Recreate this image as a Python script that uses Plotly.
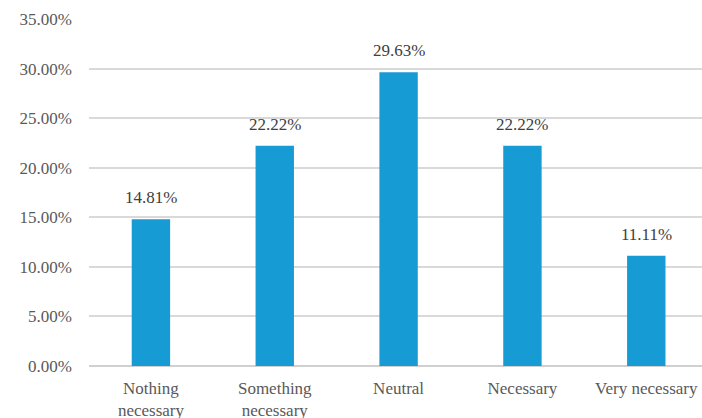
import plotly.graph_objects as go

categories = ["Nothing<br>necessary", "Something<br>necessary", "Neutral", "Necessary", "Very necessary"]
values = [14.81, 22.22, 29.63, 22.22, 11.11]
labels = ["14.81%", "22.22%", "29.63%", "22.22%", "11.11%"]
tick_vals = [0, 5, 10, 15, 20, 25, 30, 35]
tick_text = ["0.00%", "5.00%", "10.00%", "15.00%", "20.00%", "25.00%", "30.00%", "35.00%"]

font_family = "Liberation Serif, Times New Roman, serif"
FS = 17

xs = list(range(len(categories)))

fig = go.Figure(go.Bar(
    x=xs,
    y=values,
    marker=dict(color="#169bd5", line=dict(width=0)),
    width=0.31,
    cliponaxis=False,
))

for xi, v, lab in zip(xs, values, labels):
    fig.add_annotation(
        x=xi, y=v, text=lab, showarrow=False,
        yanchor="bottom", xanchor="center", yshift=10,
        font=dict(family=font_family, size=FS, color="#404040"),
    )

fig.update_layout(
    width=702, height=418,
    margin=dict(l=89, r=0, t=19, b=52, autoexpand=False),
    plot_bgcolor="white", paper_bgcolor="white",
    showlegend=False,
    font=dict(family=font_family, size=FS, color="#595959"),
    xaxis=dict(
        range=[-0.5, 4.45],
        tickmode="array",
        tickvals=xs,
        ticktext=categories,
        showgrid=False,
        showline=False,
        zeroline=False,
        ticks="",
        automargin=False,
        ticklabelstandoff=10,
        tickfont=dict(family=font_family, size=FS, color="#595959"),
    ),
    yaxis=dict(
        range=[0, 35],
        tickmode="array",
        tickvals=tick_vals,
        ticktext=tick_text,
        showgrid=True,
        gridcolor="#d9d9d9",
        gridwidth=1.5,
        zeroline=True,
        zerolinecolor="#d0d0d0",
        zerolinewidth=1.5,
        showline=False,
        ticks="",
        automargin=False,
        ticklabelstandoff=16,
        tickfont=dict(family=font_family, size=FS, color="#595959"),
    ),
)

fig.write_html(
    "out.html",
    config={"displayModeBar": False},
    post_script="document.body.style.margin='0';document.body.style.overflow='hidden';",
)
